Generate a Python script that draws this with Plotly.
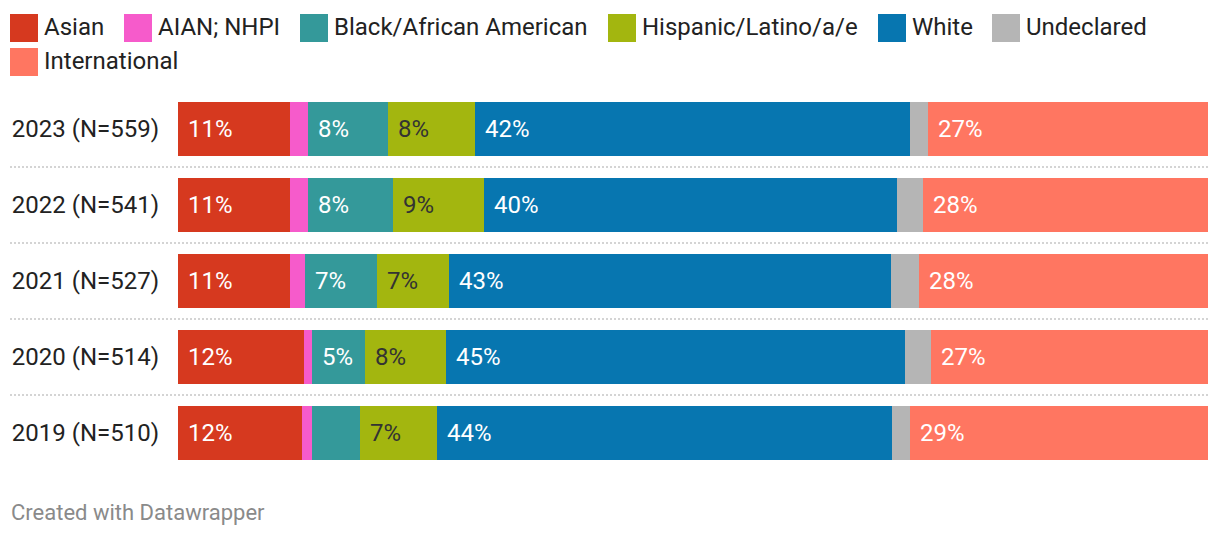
import plotly.graph_objects as go

# ---------------- data ----------------
years = ["2023 (N=559)", "2022 (N=541)", "2021 (N=527)", "2020 (N=514)", "2019 (N=510)"]
series_names = ["Asian", "AIAN; NHPI", "Black/African American", "Hispanic/Latino/a/e",
                "White", "Undeclared", "International"]
asian = [10.9, 10.9, 10.9, 12.2, 12.0]
aian_nhpi = [1.7, 1.7, 1.4, 0.8, 1.0]
black = [7.8, 8.3, 7.0, 5.2, 4.7]
hispanic = [8.4, 8.8, 7.0, 7.8, 7.4]
white = [42.3, 40.1, 42.9, 44.6, 44.2]
undeclared = [1.7, 2.5, 2.7, 2.5, 1.8]
international = [27.2, 27.7, 28.1, 26.9, 28.9]
series_values = [asian, aian_nhpi, black, hispanic, white, undeclared, international]

# ---------------- styles ----------------
colors = ["#d6391f", "#f65bcb", "#34999a", "#a3b60f", "#0776b0", "#b5b5b5", "#ff7661"]
label_colors = ["#ffffff", "#ffffff", "#ffffff", "#333333", "#ffffff", "#ffffff", "#ffffff"]
FONT = "Roboto, 'Open Sans', sans-serif"

# page has an 8px body margin: figure is drawn at page offset (8, 8)
OFF = 8
W, H = 1220 - OFF, 538 - OFF
L, R, T, B = 178 - OFF, 12, 91 - OFF, 67
PW, PH = W - L - R, H - T - B


def px_x(p):
    """page x pixel -> paper coordinate"""
    return (p - OFF - L) / PW


def px_y(p):
    """page y pixel -> paper coordinate"""
    return (H - B - (p - OFF)) / PH


fig = go.Figure()
for name, vals, col in zip(series_names, series_values, colors):
    fig.add_trace(go.Bar(
        y=years, x=vals, name=name, orientation="h",
        marker=dict(color=col, line=dict(width=0)),
        hoverinfo="skip", showlegend=False,
    ))

annotations = []
# segment labels
for i, y in enumerate(years):
    start = 0.0
    for s, vals in enumerate(series_values):
        v = vals[i]
        if v >= 5:
            annotations.append(dict(
                x=start, y=y, xref="x", yref="y", text=f"{v:.0f}%",
                showarrow=False, xanchor="left", yanchor="middle", xshift=8,
                font=dict(family=FONT, size=24, color=label_colors[s]),
            ))
        start += v

# legend (manual, Datawrapper-style)
legend_pos = [(10, 28), (124, 28), (300, 28), (608, 28), (878, 28), (992, 28), (10, 62)]
shapes = []
SW = 28
for (lx, ly), name, col in zip(legend_pos, series_names, colors):
    shapes.append(dict(type="rect", xref="paper", yref="paper",
                       x0=px_x(lx), x1=px_x(lx + SW), y0=px_y(ly - 14), y1=px_y(ly + 14),
                       fillcolor=col, line=dict(width=0), layer="above"))
    annotations.append(dict(x=px_x(lx + SW + 4), y=px_y(ly - 1), xref="paper", yref="paper",
                            text=name, showarrow=False, xanchor="left", yanchor="middle",
                            font=dict(family=FONT, size=24, color="#222222")))

# dotted separators
for k in range(len(years) - 1):
    shapes.append(dict(type="line", xref="paper", yref="y",
                       x0=px_x(10), x1=1, y0=k + 0.5, y1=k + 0.5,
                       line=dict(color="#d4d4d4", width=2, dash="2px,2px"), layer="below"))

# footer
annotations.append(dict(x=px_x(9), y=px_y(512), xref="paper", yref="paper",
                        text="Created with Datawrapper", showarrow=False,
                        xanchor="left", yanchor="middle",
                        font=dict(family=FONT, size=22, color="#8a8a8a")))

fig.update_layout(
    width=W, height=H, barmode="stack", bargap=1 - 54 / 76,
    margin=dict(l=L, r=R, t=T, b=B, autoexpand=False),
    paper_bgcolor="white", plot_bgcolor="white",
    xaxis=dict(range=[0, 100], visible=False, fixedrange=True),
    yaxis=dict(type="category", categoryorder="array", categoryarray=years,
               range=[len(years) - 0.5, -0.5], showgrid=False, zeroline=False,
               showline=False, ticks="", ticklabelstandoff=18,
               tickfont=dict(family=FONT, size=24, color="#222222"), fixedrange=True),
    shapes=shapes, annotations=annotations, showlegend=False,
    font=dict(family=FONT),
)

fig.write_html("out.html", config={"displayModeBar": False})
